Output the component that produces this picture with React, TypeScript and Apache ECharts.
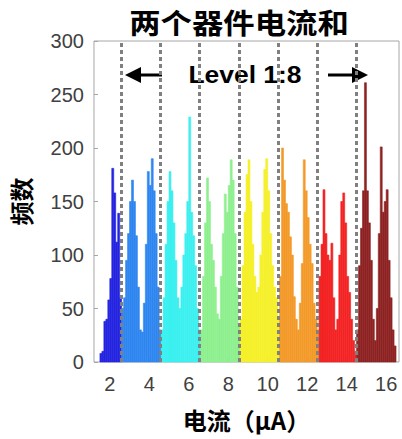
import React, { useEffect, useRef } from "react";
import * as echarts from "echarts";

const BIN = 0.1;
const levelNames = ["L1", "L2", "L3", "L4", "L5", "L6", "L7", "L8"];
const levelColors = ["#2424e0", "#2f86f0", "#3cf0f0", "#8ef08e", "#f5f02a", "#f39a2a", "#f42424", "#8e2323"];
const levelStarts = [1.55, 2.65, 4.65, 6.65, 8.65, 10.65, 12.65, 14.55];
const level1 = [8, 10, 38, 40, 58, 78, 181, 158, 112, 139, 60];
const level2 = [50, 60, 95, 120, 150, 170, 150, 118, 70, 30, 28, 55, 110, 178, 165, 190, 160, 120, 70, 30];
const level3 = [30, 60, 110, 150, 178, 160, 130, 95, 60, 50, 70, 100, 120, 150, 229, 140, 118, 90, 50, 30];
const level4 = [30, 80, 130, 172, 150, 110, 95, 70, 45, 40, 80, 120, 157, 140, 165, 189, 170, 120, 70, 35];
const level5 = [40, 90, 140, 175, 189, 150, 110, 80, 65, 70, 100, 140, 180, 190, 160, 120, 90, 70, 60, 40];
const level6 = [80, 200, 170, 148, 140, 117, 100, 61, 40, 30, 55, 92, 189, 160, 135, 110, 92, 55, 40, 30];
const level7 = [80, 110, 161, 120, 100, 95, 111, 60, 30, 40, 100, 150, 158, 130, 80, 65, 40, 20, 10];
const level8 = [30, 90, 125, 160, 261, 160, 130, 95, 40, 20, 50, 120, 201, 140, 150, 161, 95, 60, 30, 15];
const levels = [level1, level2, level3, level4, level5, level6, level7, level8];
const dividers = [2.6, 4.57, 6.55, 8.55, 10.53, 12.5, 14.48];
const xTicks = [2, 4, 6, 8, 10, 12, 14, 16];

export default function App() {
  const ref = useRef<HTMLDivElement>(null);
  useEffect(() => {
    document.body.style.margin = "0";
    const chart = echarts.init(ref.current!, null, { renderer: "svg" });
    const series: any[] = levels.map((vals, li) => ({
      type: "custom",
      name: levelNames[li],
      data: vals.map((v, i) => [levelStarts[li] + i * BIN, v]),
      renderItem: (params: any, api: any) => {
        const x = api.value(0);
        const y = api.value(1);
        const p0 = api.coord([x - BIN / 2, y]);
        const p1 = api.coord([x + BIN / 2, 0]);
        return {
          type: "rect",
          shape: { x: p0[0], y: p0[1], width: p1[0] - p0[0], height: p1[1] - p0[1] },
          style: { fill: levelColors[li], stroke: levelColors[li], lineWidth: 0.6 },
        };
      },
    }));
    series.push({
      type: "line",
      data: [],
      markLine: {
        silent: true,
        symbol: "none",
        label: { show: false },
        lineStyle: { type: [4, 3], width: 3, color: "#808080" },
        data: dividers.map((d) => ({ xAxis: d })),
      },
    });
    chart.setOption({
      animation: false,
      grid: { left: 93, right: 3, top: 41, bottom: 77, show: true, borderColor: "#a6a6a6", borderWidth: 1, backgroundColor: "transparent" },
      xAxis: {
        type: "value",
        min: 1.2,
        max: 16.65,
        splitLine: { show: false },
        axisLine: { show: false },
        axisTick: { show: true, inside: true, length: 4, customValues: xTicks, lineStyle: { color: "#a6a6a6" } },
        axisLabel: { customValues: xTicks, fontSize: 20, color: "#404040", margin: 12, fontFamily: "Liberation Sans" },
        name: "电流（μA）",
        nameLocation: "middle",
        nameGap: 45,
        nameTextStyle: { fontSize: 24, fontWeight: "bold", color: "#000", fontFamily: "Noto Sans CJK SC" },
      },
      yAxis: {
        type: "value",
        min: 0,
        max: 300,
        interval: 50,
        splitLine: { show: false },
        axisLine: { show: false },
        axisTick: { show: true, inside: true, length: 4, lineStyle: { color: "#a6a6a6" } },
        axisLabel: { fontSize: 20, color: "#404040", margin: 10, fontFamily: "Liberation Sans" },
        name: "频数",
        nameLocation: "middle",
        nameRotate: 90,
        nameGap: 62,
        nameTextStyle: { fontSize: 24, fontWeight: "bold", color: "#000", fontFamily: "Noto Sans CJK SC" },
      },
      graphic: [
        {
          type: "text",
          x: 239,
          y: 22,
          scaleX: 1.12,
          style: { text: "两个器件电流和", fontSize: 28, fontWeight: "bold", fill: "#000", align: "center", verticalAlign: "middle", fontFamily: "Noto Sans CJK SC" },
        },
        {
          type: "text",
          x: 245,
          y: 75,
          scaleX: 1.15,
          style: { text: "Level 1:8", fontSize: 23, fontWeight: "bold", fill: "#000", align: "center", verticalAlign: "middle", fontFamily: "Liberation Sans" },
        },
        { type: "line", shape: { x1: 138, y1: 75, x2: 162, y2: 75 }, style: { stroke: "#000", lineWidth: 3 } },
        { type: "polygon", shape: { points: [[125, 75], [141, 67], [141, 83]] }, style: { fill: "#000" } },
        { type: "line", shape: { x1: 328, y1: 75, x2: 354, y2: 75 }, style: { stroke: "#000", lineWidth: 3 } },
        { type: "polygon", shape: { points: [[368, 75], [352, 67], [352, 83]] }, style: { fill: "#000" } },
      ],
      series,
    });
    return () => chart.dispose();
  }, []);
  return <div ref={ref} style={{ width: 402, height: 439 }} />;
}
